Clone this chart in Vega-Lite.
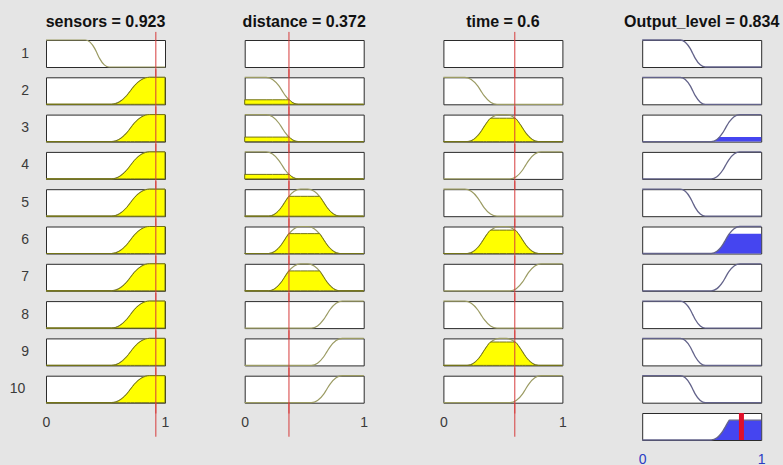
{
"$schema": "https://vega.github.io/schema/vega-lite/v6.json",
"background": "#e5e5e5",
"padding": {"left": 9, "top": 14, "right": 5, "bottom": 1},
"config": {"view": {"fill": "white", "stroke": "#2b2b2b", "strokeWidth": 1}, "font": "Liberation Sans"},
"datasets": {"mf": [
{"v":"sensors","r":1,"inp":0.923,"x":[0,0.33,0.37,0.41,0.43,0.45,0.49,0.53,1],"m":[1,1,0.92,0.68,0.5,0.32,0.08,0,0],"f":[]},
{"v":"sensors","r":2,"inp":0.923,"x":[0,0.55,0.614,0.678,0.71,0.742,0.806,0.87,1],"m":[0,0,0.08,0.32,0.5,0.68,0.92,1,1],"f":[0,0,0.08,0.32,0.5,0.68,0.92,1,1]},
{"v":"sensors","r":3,"inp":0.923,"x":[0,0.55,0.614,0.678,0.71,0.742,0.806,0.87,1],"m":[0,0,0.08,0.32,0.5,0.68,0.92,1,1],"f":[0,0,0.08,0.32,0.5,0.68,0.92,1,1]},
{"v":"sensors","r":4,"inp":0.923,"x":[0,0.55,0.614,0.678,0.71,0.742,0.806,0.87,1],"m":[0,0,0.08,0.32,0.5,0.68,0.92,1,1],"f":[0,0,0.08,0.32,0.5,0.68,0.92,1,1]},
{"v":"sensors","r":5,"inp":0.923,"x":[0,0.55,0.614,0.678,0.71,0.742,0.806,0.87,1],"m":[0,0,0.08,0.32,0.5,0.68,0.92,1,1],"f":[0,0,0.08,0.32,0.5,0.68,0.92,1,1]},
{"v":"sensors","r":6,"inp":0.923,"x":[0,0.55,0.614,0.678,0.71,0.742,0.806,0.87,1],"m":[0,0,0.08,0.32,0.5,0.68,0.92,1,1],"f":[0,0,0.08,0.32,0.5,0.68,0.92,1,1]},
{"v":"sensors","r":7,"inp":0.923,"x":[0,0.55,0.614,0.678,0.71,0.742,0.806,0.87,1],"m":[0,0,0.08,0.32,0.5,0.68,0.92,1,1],"f":[0,0,0.08,0.32,0.5,0.68,0.92,1,1]},
{"v":"sensors","r":8,"inp":0.923,"x":[0,0.55,0.614,0.678,0.71,0.742,0.806,0.87,1],"m":[0,0,0.08,0.32,0.5,0.68,0.92,1,1],"f":[0,0,0.08,0.32,0.5,0.68,0.92,1,1]},
{"v":"sensors","r":9,"inp":0.923,"x":[0,0.55,0.614,0.678,0.71,0.742,0.806,0.87,1],"m":[0,0,0.08,0.32,0.5,0.68,0.92,1,1],"f":[0,0,0.08,0.32,0.5,0.68,0.92,1,1]},
{"v":"sensors","r":10,"inp":0.923,"x":[0,0.55,0.614,0.678,0.71,0.742,0.806,0.87,1],"m":[0,0,0.08,0.32,0.5,0.68,0.92,1,1],"f":[0,0,0.08,0.32,0.5,0.68,0.92,1,1]},
{"v":"distance","r":1,"inp":0.372,"x":[0],"m":[null],"f":[]},
{"v":"distance","r":2,"inp":0.372,"x":[0,0.18,0.234,0.288,0.315,0.342,0.372,0.396,0.45,1],"m":[1,1,0.92,0.68,0.5,0.32,0.167,0.08,0,0],"f":[0.167,0.167,0.167,0.167,0.167,0.167,0.167,0.08,0,0]},
{"v":"distance","r":3,"inp":0.372,"x":[0,0.18,0.234,0.288,0.315,0.342,0.372,0.396,0.45,1],"m":[1,1,0.92,0.68,0.5,0.32,0.167,0.08,0,0],"f":[0.167,0.167,0.167,0.167,0.167,0.167,0.167,0.08,0,0]},
{"v":"distance","r":4,"inp":0.372,"x":[0,0.18,0.234,0.288,0.315,0.342,0.372,0.396,0.45,1],"m":[1,1,0.92,0.68,0.5,0.32,0.167,0.08,0,0],"f":[0.167,0.167,0.167,0.167,0.167,0.167,0.167,0.08,0,0]},
{"v":"distance","r":5,"inp":0.372,"x":[0,0.2,0.254,0.308,0.335,0.362,0.372,0.416,0.47,0.53,0.584,0.628,0.638,0.665,0.692,0.746,0.8,1],"m":[0,0,0.08,0.32,0.5,0.68,0.736,0.92,1,1,0.92,0.736,0.68,0.5,0.32,0.08,0,0],"f":[0,0,0.08,0.32,0.5,0.68,0.736,0.736,0.736,0.736,0.736,0.736,0.68,0.5,0.32,0.08,0,0]},
{"v":"distance","r":6,"inp":0.372,"x":[0,0.2,0.254,0.308,0.335,0.362,0.372,0.416,0.47,0.53,0.584,0.628,0.638,0.665,0.692,0.746,0.8,1],"m":[0,0,0.08,0.32,0.5,0.68,0.736,0.92,1,1,0.92,0.736,0.68,0.5,0.32,0.08,0,0],"f":[0,0,0.08,0.32,0.5,0.68,0.736,0.736,0.736,0.736,0.736,0.736,0.68,0.5,0.32,0.08,0,0]},
{"v":"distance","r":7,"inp":0.372,"x":[0,0.2,0.254,0.308,0.335,0.362,0.372,0.416,0.47,0.53,0.584,0.628,0.638,0.665,0.692,0.746,0.8,1],"m":[0,0,0.08,0.32,0.5,0.68,0.736,0.92,1,1,0.92,0.736,0.68,0.5,0.32,0.08,0,0],"f":[0,0,0.08,0.32,0.5,0.68,0.736,0.736,0.736,0.736,0.736,0.736,0.68,0.5,0.32,0.08,0,0]},
{"v":"distance","r":8,"inp":0.372,"x":[0,0.56,0.612,0.664,0.69,0.716,0.768,0.82,1],"m":[0,0,0.08,0.32,0.5,0.68,0.92,1,1],"f":[]},
{"v":"distance","r":9,"inp":0.372,"x":[0,0.56,0.612,0.664,0.69,0.716,0.768,0.82,1],"m":[0,0,0.08,0.32,0.5,0.68,0.92,1,1],"f":[]},
{"v":"distance","r":10,"inp":0.372,"x":[0,0.56,0.612,0.664,0.69,0.716,0.768,0.82,1],"m":[0,0,0.08,0.32,0.5,0.68,0.92,1,1],"f":[]},
{"v":"time","r":1,"inp":0.6,"x":[0],"m":[null],"f":[]},
{"v":"time","r":2,"inp":0.6,"x":[0,0.18,0.234,0.288,0.315,0.342,0.396,0.45,1],"m":[1,1,0.92,0.68,0.5,0.32,0.08,0,0],"f":[]},
{"v":"time","r":3,"inp":0.6,"x":[0,0.2,0.254,0.308,0.335,0.362,0.4,0.416,0.47,0.53,0.584,0.6,0.638,0.665,0.692,0.746,0.8,1],"m":[0,0,0.08,0.32,0.5,0.68,0.866,0.92,1,1,0.92,0.866,0.68,0.5,0.32,0.08,0,0],"f":[0,0,0.08,0.32,0.5,0.68,0.866,0.866,0.866,0.866,0.866,0.866,0.68,0.5,0.32,0.08,0,0]},
{"v":"time","r":4,"inp":0.6,"x":[0,0.56,0.612,0.664,0.69,0.716,0.768,0.82,1],"m":[0,0,0.08,0.32,0.5,0.68,0.92,1,1],"f":[]},
{"v":"time","r":5,"inp":0.6,"x":[0,0.18,0.234,0.288,0.315,0.342,0.396,0.45,1],"m":[1,1,0.92,0.68,0.5,0.32,0.08,0,0],"f":[]},
{"v":"time","r":6,"inp":0.6,"x":[0,0.2,0.254,0.308,0.335,0.362,0.4,0.416,0.47,0.53,0.584,0.6,0.638,0.665,0.692,0.746,0.8,1],"m":[0,0,0.08,0.32,0.5,0.68,0.866,0.92,1,1,0.92,0.866,0.68,0.5,0.32,0.08,0,0],"f":[0,0,0.08,0.32,0.5,0.68,0.866,0.866,0.866,0.866,0.866,0.866,0.68,0.5,0.32,0.08,0,0]},
{"v":"time","r":7,"inp":0.6,"x":[0,0.56,0.612,0.664,0.69,0.716,0.768,0.82,1],"m":[0,0,0.08,0.32,0.5,0.68,0.92,1,1],"f":[]},
{"v":"time","r":8,"inp":0.6,"x":[0,0.18,0.234,0.288,0.315,0.342,0.396,0.45,1],"m":[1,1,0.92,0.68,0.5,0.32,0.08,0,0],"f":[]},
{"v":"time","r":9,"inp":0.6,"x":[0,0.2,0.254,0.308,0.335,0.362,0.4,0.416,0.47,0.53,0.584,0.6,0.638,0.665,0.692,0.746,0.8,1],"m":[0,0,0.08,0.32,0.5,0.68,0.866,0.92,1,1,0.92,0.866,0.68,0.5,0.32,0.08,0,0],"f":[0,0,0.08,0.32,0.5,0.68,0.866,0.866,0.866,0.866,0.866,0.866,0.68,0.5,0.32,0.08,0,0]},
{"v":"time","r":10,"inp":0.6,"x":[0,0.56,0.612,0.664,0.69,0.716,0.768,0.82,1],"m":[0,0,0.08,0.32,0.5,0.68,0.92,1,1],"f":[]},
{"v":"output","r":1,"inp":0.834,"x":[0,0.32,0.362,0.404,0.425,0.446,0.488,0.53,1],"m":[1,1,0.92,0.68,0.5,0.32,0.08,0,0],"f":[]},
{"v":"output","r":2,"inp":0.834,"x":[0,0.32,0.362,0.404,0.425,0.446,0.488,0.53,1],"m":[1,1,0.92,0.68,0.5,0.32,0.08,0,0],"f":[]},
{"v":"output","r":3,"inp":0.834,"x":[0,0.58,0.628,0.649,0.676,0.7,0.724,0.733,0.772,0.82,1],"m":[0,0,0.08,0.167,0.32,0.5,0.68,0.736,0.92,1,1],"f":[0,0,0.08,0.167,0.167,0.167,0.167,0.167,0.167,0.167,0.167]},
{"v":"output","r":4,"inp":0.834,"x":[0,0.58,0.628,0.649,0.676,0.7,0.724,0.733,0.772,0.82,1],"m":[0,0,0.08,0.167,0.32,0.5,0.68,0.736,0.92,1,1],"f":[]},
{"v":"output","r":5,"inp":0.834,"x":[0,0.32,0.362,0.404,0.425,0.446,0.488,0.53,1],"m":[1,1,0.92,0.68,0.5,0.32,0.08,0,0],"f":[]},
{"v":"output","r":6,"inp":0.834,"x":[0,0.58,0.628,0.649,0.676,0.7,0.724,0.733,0.772,0.82,1],"m":[0,0,0.08,0.167,0.32,0.5,0.68,0.736,0.92,1,1],"f":[0,0,0.08,0.167,0.32,0.5,0.68,0.736,0.736,0.736,0.736]},
{"v":"output","r":7,"inp":0.834,"x":[0,0.58,0.628,0.649,0.676,0.7,0.724,0.733,0.772,0.82,1],"m":[0,0,0.08,0.167,0.32,0.5,0.68,0.736,0.92,1,1],"f":[]},
{"v":"output","r":8,"inp":0.834,"x":[0,0.32,0.362,0.404,0.425,0.446,0.488,0.53,1],"m":[1,1,0.92,0.68,0.5,0.32,0.08,0,0],"f":[]},
{"v":"output","r":9,"inp":0.834,"x":[0,0.32,0.362,0.404,0.425,0.446,0.488,0.53,1],"m":[1,1,0.92,0.68,0.5,0.32,0.08,0,0],"f":[]},
{"v":"output","r":10,"inp":0.834,"x":[0,0.32,0.362,0.404,0.425,0.446,0.488,0.53,1],"m":[1,1,0.92,0.68,0.5,0.32,0.08,0,0],"f":[]},
{"v":"output","r":11,"inp":0.834,"x":[0,0.58,0.628,0.649,0.676,0.7,0.724,0.733,1],"m":[0,0,0.08,0.167,0.32,0.5,0.68,0.736,0.736],"f":[0,0,0.08,0.167,0.32,0.5,0.68,0.736,0.736]}
]},
"spacing": 56.2,
"hconcat": [
{"spacing": 71.7, "hconcat": [
{
 "data": {"name": "mf"},
 "transform": [{"filter": "datum.v === 'sensors'"}, {"flatten": ["x", "m", "f"]}],
 "bounds": "flush",
 "spacing": {"row": 10.3, "column": 0},
 "facet": {
  "row": {"field": "r", "type": "ordinal", "header": {"title": null, "labelAngle": 0, "labelAlign": "center", "labelOrient": "left", "labelPadding": 13, "labelFontSize": 14, "labelColor": "#3a3a3a", "labelFont": "Liberation Sans"}},
  "column": {"field": "v", "type": "nominal", "header": {"title": null, "labelExpr": "'sensors = 0.923'", "labelFontSize": 16, "labelFontWeight": "bold", "labelColor": "#111111", "labelFont": "Liberation Sans", "labelPadding": 10}}
 },
 "spec": {"width": 119, "height": 27, "layer": [
  {"mark": {"type": "line", "interpolate": "monotone", "color": "#9b9b63", "strokeWidth": 1.2},
   "encoding": {"x": {"field": "x", "type": "quantitative", "scale": {"domain": [0, 1], "nice": false, "zero": false}, "axis": {"values": [0, 1], "format": "d", "ticks": false, "domain": false, "grid": false, "labelFlush": false, "labelPadding": 12, "labelFontSize": 14, "labelColor": "#3a3a3a", "labelFont": "Liberation Sans", "title": null}},
    "y": {"field": "m", "type": "quantitative", "scale": {"domain": [0, 1], "nice": false, "zero": false}, "axis": null}}},
  {"mark": {"type": "area", "interpolate": "monotone", "fill": "#ffff00", "stroke": "#737318", "strokeWidth": 1, "opacity": 1},
   "encoding": {"x": {"field": "x", "type": "quantitative", "scale": {"domain": [0, 1], "nice": false, "zero": false}}, "y": {"field": "f", "type": "quantitative", "scale": {"domain": [0, 1], "nice": false, "zero": false}, "axis": null}}},
  {"transform": [{"aggregate": [{"op": "count", "as": "n"}], "groupby": ["v", "r", "inp"]}],
   "mark": {"type": "rule", "color": "#d63c3c", "strokeWidth": 1},
   "encoding": {"x": {"field": "inp", "type": "quantitative", "scale": {"domain": [0, 1], "nice": false, "zero": false}}, "y": {"datum": -0.4, "scale": {"domain": [0, 1], "nice": false, "zero": false}, "axis": null}, "y2": {"datum": 1.3}}},
  {"transform": [{"filter": "datum.r === 10"}, {"aggregate": [{"op": "count", "as": "n"}], "groupby": ["v", "r", "inp"]}],
   "mark": {"type": "rule", "color": "#d63c3c", "strokeWidth": 1},
   "encoding": {"x": {"field": "inp", "type": "quantitative", "scale": {"domain": [0, 1], "nice": false, "zero": false}}, "y": {"datum": -1.26, "scale": {"domain": [0, 1], "nice": false, "zero": false}, "axis": null}, "y2": {"datum": 0}}}
 ]}
},
{
 "data": {"name": "mf"},
 "transform": [{"filter": "datum.v === 'distance'"}, {"flatten": ["x", "m", "f"]}],
 "bounds": "flush",
 "spacing": {"row": 10.3, "column": 0},
 "facet": {
  "row": {"field": "r", "type": "ordinal", "header": {"title": null, "labels": false}},
  "column": {"field": "v", "type": "nominal", "header": {"title": null, "labelExpr": "'distance = 0.372'", "labelFontSize": 16, "labelFontWeight": "bold", "labelColor": "#111111", "labelFont": "Liberation Sans", "labelPadding": 10}}
 },
 "spec": {"width": 119, "height": 27, "layer": [
  {"mark": {"type": "line", "interpolate": "monotone", "color": "#9b9b63", "strokeWidth": 1.2},
   "encoding": {"x": {"field": "x", "type": "quantitative", "scale": {"domain": [0, 1], "nice": false, "zero": false}, "axis": {"values": [0, 1], "format": "d", "ticks": false, "domain": false, "grid": false, "labelFlush": false, "labelPadding": 12, "labelFontSize": 14, "labelColor": "#3a3a3a", "labelFont": "Liberation Sans", "title": null}},
    "y": {"field": "m", "type": "quantitative", "scale": {"domain": [0, 1], "nice": false, "zero": false}, "axis": null}}},
  {"mark": {"type": "area", "interpolate": "monotone", "fill": "#ffff00", "stroke": "#737318", "strokeWidth": 1, "opacity": 1},
   "encoding": {"x": {"field": "x", "type": "quantitative", "scale": {"domain": [0, 1], "nice": false, "zero": false}}, "y": {"field": "f", "type": "quantitative", "scale": {"domain": [0, 1], "nice": false, "zero": false}, "axis": null}}},
  {"transform": [{"aggregate": [{"op": "count", "as": "n"}], "groupby": ["v", "r", "inp"]}],
   "mark": {"type": "rule", "color": "#d63c3c", "strokeWidth": 1},
   "encoding": {"x": {"field": "inp", "type": "quantitative", "scale": {"domain": [0, 1], "nice": false, "zero": false}}, "y": {"datum": -0.4, "scale": {"domain": [0, 1], "nice": false, "zero": false}, "axis": null}, "y2": {"datum": 1.3}}},
  {"transform": [{"filter": "datum.r === 10"}, {"aggregate": [{"op": "count", "as": "n"}], "groupby": ["v", "r", "inp"]}],
   "mark": {"type": "rule", "color": "#d63c3c", "strokeWidth": 1},
   "encoding": {"x": {"field": "inp", "type": "quantitative", "scale": {"domain": [0, 1], "nice": false, "zero": false}}, "y": {"datum": -1.26, "scale": {"domain": [0, 1], "nice": false, "zero": false}, "axis": null}, "y2": {"datum": 0}}}
 ]}
},
{
 "data": {"name": "mf"},
 "transform": [{"filter": "datum.v === 'time'"}, {"flatten": ["x", "m", "f"]}],
 "bounds": "flush",
 "spacing": {"row": 10.3, "column": 0},
 "facet": {
  "row": {"field": "r", "type": "ordinal", "header": {"title": null, "labels": false}},
  "column": {"field": "v", "type": "nominal", "header": {"title": null, "labelExpr": "'time = 0.6'", "labelFontSize": 16, "labelFontWeight": "bold", "labelColor": "#111111", "labelFont": "Liberation Sans", "labelPadding": 10}}
 },
 "spec": {"width": 119, "height": 27, "layer": [
  {"mark": {"type": "line", "interpolate": "monotone", "color": "#9b9b63", "strokeWidth": 1.2},
   "encoding": {"x": {"field": "x", "type": "quantitative", "scale": {"domain": [0, 1], "nice": false, "zero": false}, "axis": {"values": [0, 1], "format": "d", "ticks": false, "domain": false, "grid": false, "labelFlush": false, "labelPadding": 12, "labelFontSize": 14, "labelColor": "#3a3a3a", "labelFont": "Liberation Sans", "title": null}},
    "y": {"field": "m", "type": "quantitative", "scale": {"domain": [0, 1], "nice": false, "zero": false}, "axis": null}}},
  {"mark": {"type": "area", "interpolate": "monotone", "fill": "#ffff00", "stroke": "#737318", "strokeWidth": 1, "opacity": 1},
   "encoding": {"x": {"field": "x", "type": "quantitative", "scale": {"domain": [0, 1], "nice": false, "zero": false}}, "y": {"field": "f", "type": "quantitative", "scale": {"domain": [0, 1], "nice": false, "zero": false}, "axis": null}}},
  {"transform": [{"aggregate": [{"op": "count", "as": "n"}], "groupby": ["v", "r", "inp"]}],
   "mark": {"type": "rule", "color": "#d63c3c", "strokeWidth": 1},
   "encoding": {"x": {"field": "inp", "type": "quantitative", "scale": {"domain": [0, 1], "nice": false, "zero": false}}, "y": {"datum": -0.4, "scale": {"domain": [0, 1], "nice": false, "zero": false}, "axis": null}, "y2": {"datum": 1.3}}},
  {"transform": [{"filter": "datum.r === 10"}, {"aggregate": [{"op": "count", "as": "n"}], "groupby": ["v", "r", "inp"]}],
   "mark": {"type": "rule", "color": "#d63c3c", "strokeWidth": 1},
   "encoding": {"x": {"field": "inp", "type": "quantitative", "scale": {"domain": [0, 1], "nice": false, "zero": false}}, "y": {"datum": -1.26, "scale": {"domain": [0, 1], "nice": false, "zero": false}, "axis": null}, "y2": {"datum": 0}}}
 ]}
}
]},
{
 "data": {"name": "mf"},
 "transform": [{"filter": "datum.v === 'output'"}, {"flatten": ["x", "m", "f"]}],
 "bounds": "flush",
 "spacing": {"row": 10.3, "column": 0},
 "facet": {
  "row": {"field": "r", "type": "ordinal", "header": {"title": null, "labels": false}},
  "column": {"field": "v", "type": "nominal", "header": {"title": null, "labelExpr": "'Output_level = 0.834'", "labelFontSize": 16, "labelFontWeight": "bold", "labelColor": "#111111", "labelFont": "Liberation Sans", "labelPadding": 10}}
 },
 "spec": {"width": 119, "height": 27, "layer": [
  {"mark": {"type": "area", "interpolate": "monotone", "fill": "#4545f0", "opacity": 1},
   "encoding": {"x": {"field": "x", "type": "quantitative", "scale": {"domain": [0, 1], "nice": false, "zero": false}, "axis": {"values": [0, 1], "format": "d", "ticks": false, "domain": false, "grid": false, "labelFlush": false, "labelPadding": 11, "labelFontSize": 14, "labelColor": "#2a3cc4", "labelFont": "Liberation Sans", "title": null}}, "y": {"field": "f", "type": "quantitative", "scale": {"domain": [0, 1], "nice": false, "zero": false}, "axis": null}}},
  {"mark": {"type": "line", "interpolate": "monotone", "color": "#63638a", "strokeWidth": 1.3},
   "encoding": {"x": {"field": "x", "type": "quantitative", "scale": {"domain": [0, 1], "nice": false, "zero": false}},
    "y": {"field": "m", "type": "quantitative", "scale": {"domain": [0, 1], "nice": false, "zero": false}, "axis": null}}},
  {"transform": [{"filter": "datum.r === 11"}, {"aggregate": [{"op": "count", "as": "n"}], "groupby": ["v", "r", "inp"]}],
   "mark": {"type": "rule", "color": "#e0102a", "strokeWidth": 5},
   "encoding": {"x": {"field": "inp", "type": "quantitative", "scale": {"domain": [0, 1], "nice": false, "zero": false}}, "y": {"datum": 0, "scale": {"domain": [0, 1], "nice": false, "zero": false}, "axis": null}, "y2": {"datum": 1}}}
 ]}
}
]
}
